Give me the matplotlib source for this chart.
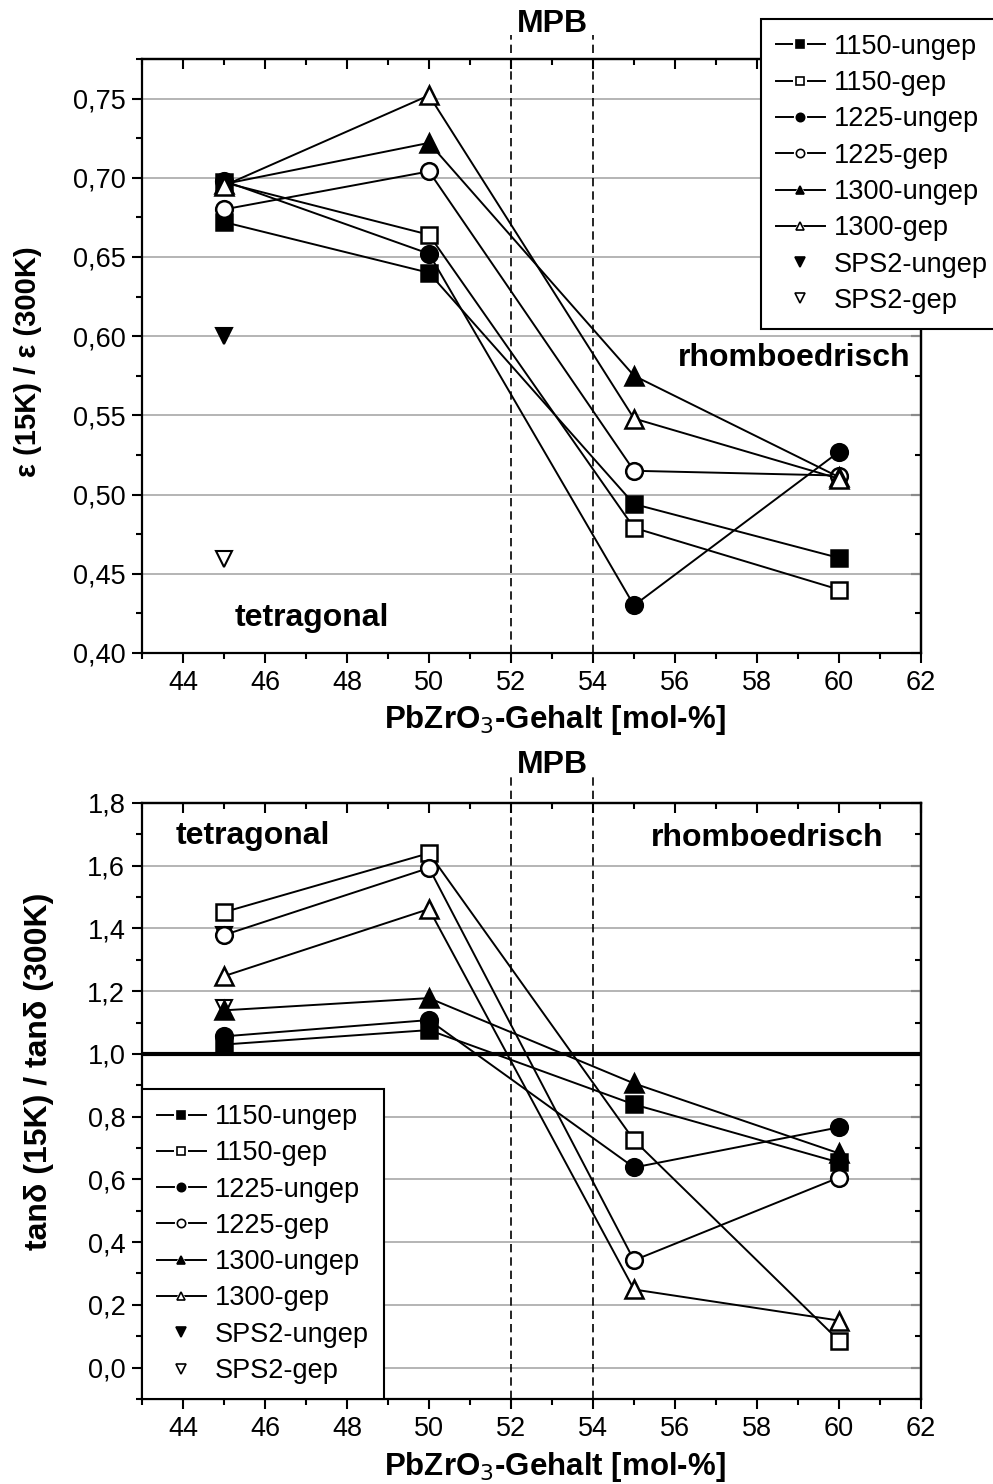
import matplotlib
matplotlib.use("Agg")
import matplotlib.pyplot as plt
from matplotlib.ticker import MultipleLocator, FuncFormatter
from matplotlib.lines import Line2D
from matplotlib.legend_handler import HandlerTuple

plt.rcParams['font.family'] = ['Liberation Sans', 'DejaVu Sans']

# ---------------- data ----------------
x_vals = [45, 50, 55, 60]
series_names = ['1150-ungep', '1150-gep', '1225-ungep', '1225-gep', '1300-ungep', '1300-gep']

eps_1150_ungep = [0.672, 0.640, 0.494, 0.460]
eps_1150_gep = [0.697, 0.664, 0.479, 0.440]
eps_1225_ungep = [0.698, 0.652, 0.430, 0.527]
eps_1225_gep = [0.680, 0.704, 0.515, 0.512]
eps_1300_ungep = [0.696, 0.722, 0.575, 0.511]
eps_1300_gep = [0.695, 0.752, 0.548, 0.510]
eps_sps2_x = [45]
eps_sps2_ungep = [0.600]
eps_sps2_gep = [0.459]

tan_1150_ungep = [1.030, 1.076, 0.839, 0.654]
tan_1150_gep = [1.452, 1.640, 0.725, 0.086]
tan_1225_ungep = [1.056, 1.108, 0.638, 0.766]
tan_1225_gep = [1.379, 1.593, 0.342, 0.606]
tan_1300_ungep = [1.139, 1.178, 0.906, 0.683]
tan_1300_gep = [1.248, 1.462, 0.249, 0.150]
tan_sps2_x = [45]
tan_sps2_ungep = [1.379]
tan_sps2_gep = [1.145]

# ---------------- styles ----------------
styles = {
    '1150-ungep': dict(marker='s', mfc='black', ms=11),
    '1150-gep': dict(marker='s', mfc='white', ms=11),
    '1225-ungep': dict(marker='o', mfc='black', ms=12),
    '1225-gep': dict(marker='o', mfc='white', ms=12),
    '1300-ungep': dict(marker='^', mfc='black', ms=13),
    '1300-gep': dict(marker='^', mfc='white', ms=13),
}
TICK_FS = 19.5
LEG_FS = 19.5

fig = plt.figure(figsize=(9.93, 14.84), dpi=100)
ax1 = fig.add_axes([0.1430, 0.5600, 0.7845, 0.4003])
ax2 = fig.add_axes([0.1430, 0.0573, 0.7845, 0.4016])


def style_axes(ax, ymin, ymax, ymaj, ymin_step, ndec):
    ax.set_xlim(43, 62)
    ax.set_ylim(ymin, ymax)
    ax.xaxis.set_major_locator(MultipleLocator(2))
    ax.xaxis.set_minor_locator(MultipleLocator(1))
    ax.yaxis.set_major_locator(MultipleLocator(ymaj))
    ax.yaxis.set_minor_locator(MultipleLocator(ymin_step))
    ax.yaxis.set_major_formatter(FuncFormatter(lambda v, p: f"{v:.{ndec}f}".replace('.', ',')))
    ax.xaxis.set_major_formatter(FuncFormatter(lambda v, p: f"{v:.0f}"))
    ax.tick_params(axis='both', which='major', direction='out', length=7, width=1.5,
                   labelsize=TICK_FS, top=False, right=False, pad=5)
    ax.tick_params(axis='both', which='minor', direction='out', length=4, width=1.5,
                   top=False, right=False)
    for sp in ax.spines.values():
        sp.set_linewidth(1.6)
    ax.grid(axis='y', which='major', color='#a8a8a8', lw=1.2)
    ax.set_axisbelow(True)
    # inward ticks on top and right
    sx = ax.secondary_xaxis('top')
    sx.xaxis.set_major_locator(MultipleLocator(2))
    sx.xaxis.set_minor_locator(MultipleLocator(1))
    sx.tick_params(which='major', direction='in', length=7, width=1.5, labeltop=False)
    sx.tick_params(which='minor', direction='in', length=4, width=1.5)
    sy = ax.secondary_yaxis('right')
    sy.yaxis.set_major_locator(MultipleLocator(ymaj))
    sy.yaxis.set_minor_locator(MultipleLocator(ymin_step))
    sy.tick_params(which='major', direction='in', length=7, width=1.5, labelright=False)
    sy.tick_params(which='minor', direction='in', length=4, width=1.5)
    for s in (sx, sy):
        for sp in s.spines.values():
            sp.set_linewidth(1.6)


def draw(ax, data, sps_x, sps_u, sps_g):
    ax.plot(sps_x, sps_u, linestyle='none', marker='v', mfc='black', mec='black', ms=12,
            mew=1.5, zorder=3)
    ax.plot(sps_x, sps_g, linestyle='none', marker='v', mfc='white', mec='black', ms=12,
            mew=1.5, zorder=3)
    for name, ys in zip(series_names, data):
        st = styles[name]
        ax.plot(x_vals, ys, color='black', lw=1.4, marker=st['marker'], mfc=st['mfc'],
                mec='black', ms=st['ms'], mew=1.8, zorder=4)


def legend_handles():
    hs, labels = [], []
    for name in series_names:
        st = styles[name]
        line = Line2D([], [], color='black', lw=1.4)
        halo = Line2D([], [], color='none', marker=st['marker'], mfc='white', mec='white',
                      ms=9.5, mew=0)
        mk = Line2D([], [], color='none', marker=st['marker'], mfc=st['mfc'], mec='black',
                    ms=6, mew=1.2)
        hs.append((line, halo, mk))
        labels.append(name)
    hs.append(Line2D([], [], color='none', marker='v', mfc='black', mec='black', ms=7.5,
                     mew=1.2))
    labels.append('SPS2-ungep')
    hs.append(Line2D([], [], color='none', marker='v', mfc='white', mec='black', ms=7.5,
                     mew=1.2))
    labels.append('SPS2-gep')
    return hs, labels


def add_legend(ax, **kw):
    hs, labels = legend_handles()
    leg = ax.legend(hs, labels, handler_map={tuple: HandlerTuple(ndivide=1, pad=0)},
                    borderaxespad=0, fontsize=LEG_FS, frameon=True, fancybox=False,
                    framealpha=1, edgecolor='black', handlelength=1.8, handletextpad=0.35,
                    labelspacing=0.38, borderpad=0.55, **kw)
    leg.get_frame().set_linewidth(1.5)
    leg.set_zorder(10)
    return leg


# ---------------- top panel ----------------
style_axes(ax1, 0.40, 0.775, 0.05, 0.025, 2)
draw(ax1, [eps_1150_ungep, eps_1150_gep, eps_1225_ungep, eps_1225_gep, eps_1300_ungep, eps_1300_gep],
     eps_sps2_x, eps_sps2_ungep, eps_sps2_gep)
for xv in (52, 54):
    ax1.plot([xv, xv], [0.40, 0.790], color='black', lw=1.2, ls=(0, (5, 3)), clip_on=False, zorder=2)
ax1.text(53, 0.797, 'MPB', ha='center', va='center', fontsize=23, fontweight='bold')
ax1.text(47.15, 0.422, 'tetragonal', ha='center', va='center', fontsize=23, fontweight='bold')
ax1.text(58.9, 0.586, 'rhomboedrisch', ha='center', va='center', fontsize=23, fontweight='bold')
ax1.set_xlabel('PbZrO$_3$-Gehalt [mol-%]', fontsize=22.5, fontweight='bold')
ax1.xaxis.set_label_coords(0.53, -0.085)
ax1.set_ylabel('ε (15K) / ε (300K)', fontsize=21, fontweight='bold')
ax1.yaxis.set_label_coords(-0.128, 0.49)
add_legend(ax1, loc='upper left', bbox_to_anchor=(0.7946, 1.0673))

# ---------------- bottom panel ----------------
style_axes(ax2, -0.1, 1.8, 0.2, 0.1, 1)
draw(ax2, [tan_1150_ungep, tan_1150_gep, tan_1225_ungep, tan_1225_gep, tan_1300_ungep, tan_1300_gep],
     tan_sps2_x, tan_sps2_ungep, tan_sps2_gep)
ax2.axhline(1.0, color='black', lw=3, zorder=3)
for xv in (52, 54):
    ax2.plot([xv, xv], [-0.1, 1.89], color='black', lw=1.2, ls=(0, (5, 3)), clip_on=False, zorder=2)
ax2.text(53, 1.92, 'MPB', ha='center', va='center', fontsize=23, fontweight='bold')
ax2.text(45.7, 1.695, 'tetragonal', ha='center', va='center', fontsize=23, fontweight='bold')
ax2.text(58.24, 1.688, 'rhomboedrisch', ha='center', va='center', fontsize=23, fontweight='bold')
ax2.set_xlabel('PbZrO$_3$-Gehalt [mol-%]', fontsize=22.5, fontweight='bold')
ax2.xaxis.set_label_coords(0.53, -0.085)
ax2.set_ylabel('tanδ (15K) / tanδ (300K)', fontsize=23, fontweight='bold')
ax2.yaxis.set_label_coords(-0.113, 0.549)
add_legend(ax2, loc='lower left', bbox_to_anchor=(0, 0))

fig.savefig('out.png', dpi=100)
